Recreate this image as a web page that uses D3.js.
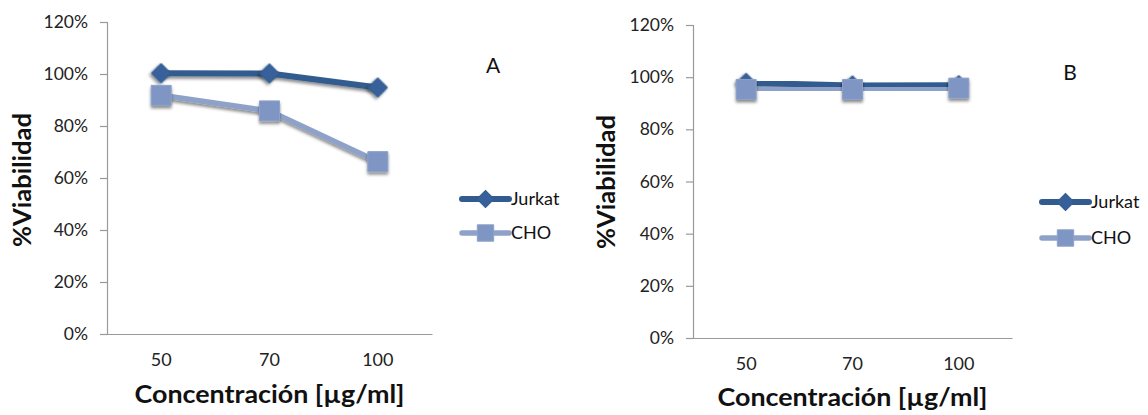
<!DOCTYPE html>
<html>
<head>
<meta charset="utf-8">
<script src="https://cdn.jsdelivr.net/npm/d3@7"></script>
<style>
  html, body { margin: 0; padding: 0; background: #fff; }
  svg { display: block; }
  text { font-family: Lato, "Open Sans", sans-serif; }
</style>
</head>
<body>
<svg id="chart" width="1148" height="415"></svg>
<script>
// Viability (%) of Jurkat and CHO cells at each concentration
const concentrations = ["50", "70", "100"];
const seriesNames = ["Jurkat", "CHO"];
const jurkatA = [100.3, 100.2, 94.8];
const choA = [91.8, 85.8, 66.3];
const jurkatB = [97.8, 96.8, 96.9];
const choB = [95.3, 95.3, 95.8];
const yTicks = [0, 20, 40, 60, 80, 100, 120];
const panelLabels = ["A", "B"];

const colors = { Jurkat: "#325c8f", CHO: "#8ea2c9" };
const markerFill = { Jurkat: "#37609a", CHO: "#7f96c4" };

const svg = d3.select("#chart");

const defs = svg.append("defs");
const f = defs.append("filter").attr("id", "shadow")
  .attr("x", "-50%").attr("y", "-50%").attr("width", "200%").attr("height", "200%");
f.append("feDropShadow").attr("dx", 0).attr("dy", 2.5).attr("stdDeviation", 1.8)
  .attr("flood-color", "#000").attr("flood-opacity", 0.45);

const panels = [
  { left: 107, top: 22, bottom: 334, right: 432, jurkat: jurkatA, cho: choA, label: panelLabels[0],
    labelX: 493, labelY: 73, legX: 462, legY: 199, legGap: 34, yTitleX: 23, yTitleY: 180, xTitleY: 403 },
  { left: 693, top: 25, bottom: 338, right: 1012, jurkat: jurkatB, cho: choB, label: panelLabels[1],
    labelX: 1070, labelY: 80, legX: 1042, legY: 202, legGap: 36, yTitleX: 607, yTitleY: 182, xTitleY: 406 }
];

// marker shapes: rotated square for the diamond
const markerPath = (name, big) => name === "Jurkat"
  ? d3.symbol().type(d3.symbolSquare).size(big ? 190 : 150)()
  : d3.symbol().type(d3.symbolSquare).size(big ? 400 : 270)();
const markerRot = name => name === "Jurkat" ? " rotate(45)" : "";

panels.forEach(p => {
  const g = svg.append("g");
  const x = d3.scaleBand().domain(concentrations).range([p.left, p.right]);
  const y = d3.scaleLinear().domain([0, 120]).range([p.bottom, p.top]);

  // y axis
  const yAxis = d3.axisLeft(y).tickValues(yTicks).tickFormat(d => d + "%").tickSize(7).tickPadding(12);
  const ya = g.append("g").attr("transform", `translate(${p.left},0)`).call(yAxis);
  ya.select(".domain").attr("stroke", "#9a9a9a").attr("stroke-width", 1.2);
  ya.selectAll(".tick line").attr("stroke", "#9a9a9a").attr("stroke-width", 1.2);
  ya.selectAll(".tick text").attr("font-size", 17.5).attr("fill", "#222").style("font-family", "Lato, sans-serif");

  // x axis
  const xAxis = d3.axisBottom(x).tickSize(0).tickPadding(19);
  const xa = g.append("g").attr("transform", `translate(0,${p.bottom})`).call(xAxis);
  xa.select(".domain").attr("stroke", "#9a9a9a").attr("stroke-width", 1.2);
  xa.selectAll(".tick text").attr("font-size", 18).attr("fill", "#222").style("font-family", "Lato, sans-serif");

  // axis titles
  g.append("text")
    .attr("transform", `translate(${p.yTitleX + 8},${p.yTitleY}) rotate(-90)`)
    .attr("text-anchor", "middle").attr("font-size", 24).attr("font-weight", "bold")
    .attr("textLength", 134).attr("lengthAdjust", "spacingAndGlyphs")
    .attr("fill", "#111").text("%Viabilidad");
  g.append("text")
    .attr("x", (p.left + p.right) / 2).attr("y", p.xTitleY)
    .attr("text-anchor", "middle").attr("font-size", 24).attr("font-weight", "bold")
    .attr("textLength", 270).attr("lengthAdjust", "spacingAndGlyphs")
    .attr("fill", "#111").text("Concentración [µg/ml]");

  const cx = d => x(d) + x.bandwidth() / 2;
  const line = d3.line().x(d => cx(d.c)).y(d => y(d.v));

  const series = [
    { name: "Jurkat", values: p.jurkat, width: 6 },
    { name: "CHO", values: p.cho, width: 5.5 }
  ];

  series.forEach(s => {
    const pts = concentrations.map((c, i) => ({ c, v: s.values[i] }));
    g.append("path").datum(pts).attr("d", line)
      .attr("fill", "none").attr("stroke", colors[s.name]).attr("stroke-width", s.width)
      .attr("stroke-linejoin", "round").attr("stroke-linecap", "round")
      .attr("filter", "url(#shadow)");
    g.selectAll(null).data(pts).enter().append("path")
      .attr("d", markerPath(s.name, true))
      .attr("transform", d => `translate(${cx(d.c)},${y(d.v)})` + markerRot(s.name))
      .attr("fill", markerFill[s.name]).attr("stroke", colors[s.name]).attr("stroke-width", 1)
      .attr("stroke-linejoin", "round")
      .attr("filter", "url(#shadow)");
  });

  // panel label
  g.append("text").attr("x", p.labelX).attr("y", p.labelY).attr("text-anchor", "middle")
    .attr("font-size", 21).attr("fill", "#111").text(p.label);

  // legend
  series.forEach((s, i) => {
    const ly = p.legY + i * p.legGap;
    g.append("line").attr("x1", p.legX).attr("x2", p.legX + 47).attr("y1", ly).attr("y2", ly)
      .attr("stroke", colors[s.name]).attr("stroke-width", s.width).attr("stroke-linecap", "round");
    g.append("path").attr("d", markerPath(s.name, false))
      .attr("transform", `translate(${p.legX + 23.5},${ly})` + markerRot(s.name))
      .attr("fill", markerFill[s.name]).attr("stroke", colors[s.name]).attr("stroke-width", 1);
    g.append("text").attr("x", p.legX + 49).attr("y", ly).attr("dy", "0.36em")
      .attr("font-size", 18).attr("fill", "#111").text(seriesNames[i]);
  });
});
</script>
</body>
</html>
